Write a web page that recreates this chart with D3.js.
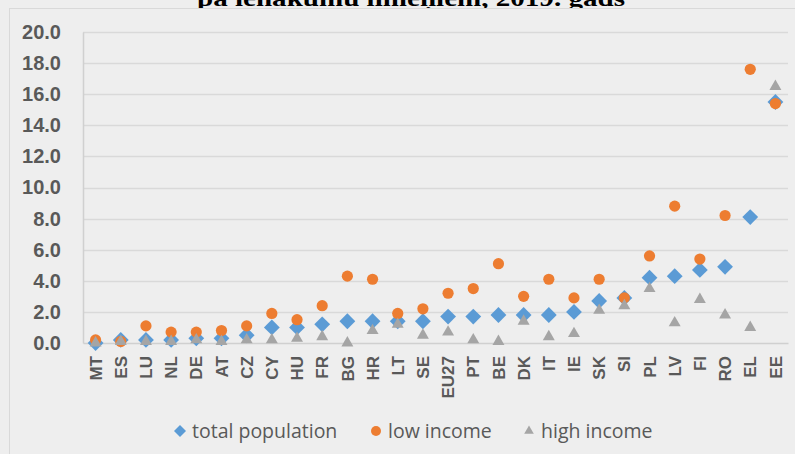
<!DOCTYPE html>
<html>
<head>
<meta charset="utf-8">
<script src="https://cdn.jsdelivr.net/npm/d3@7"></script>
<style>
  body { margin: 0; background: #eeeeee; }
  svg { display: block; }
</style>
</head>
<body>
<div id="chart"></div>
<script>
// countries, sorted as in the source figure
var countries = ["MT","ES","LU","NL","DE","AT","CZ","CY","HU","FR","BG","HR","LT","SE","EU27","PT","BE","DK","IT","IE","SK","SI","PL","LV","FI","RO","EL","EE"];
var totalPop   = [0.0,0.2,0.2,0.2,0.3,0.3,0.5,1.0,1.0,1.2,1.4,1.4,1.4,1.4,1.7,1.7,1.8,1.8,1.8,2.0,2.7,2.9,4.2,4.3,4.7,4.9,8.1,15.5];
var lowIncome  = [0.2,0.1,1.1,0.7,0.7,0.8,1.1,1.9,1.5,2.4,4.3,4.1,1.9,2.2,3.2,3.5,5.1,3.0,4.1,2.9,4.1,2.9,5.6,8.8,5.4,8.2,17.6,15.4];
var highIncome = [0.0,0.1,0.1,0.1,0.2,0.1,0.2,0.2,0.3,0.4,0.0,0.8,1.2,0.5,0.7,0.2,0.1,1.4,0.4,0.6,2.1,2.4,3.5,1.3,2.8,1.8,1.0,16.5];
var yTicks = [0,2,4,6,8,10,12,14,16,18,20];
var titleText = "pa ienākumu līmeņiem, 2019. gads";
var seriesNames = ["total population", "low income", "high income"];

var W = 795, H = 454;
var margin = {top: 32, right: 7, bottom: 111, left: 83};
var width = W - margin.left - margin.right;
var height = H - margin.top - margin.bottom;

var svg = d3.select("#chart").append("svg")
    .attr("width", W)
    .attr("height", H);

// title (its top is cut off in the source picture too)
svg.append("text")
    .attr("x", 411)
    .attr("y", 5.5)
    .attr("text-anchor", "middle")
    .attr("textLength", 428)
    .attr("lengthAdjust", "spacingAndGlyphs")
    .style("font", "bold 24px 'Liberation Serif', 'Times New Roman', serif")
    .style("fill", "#000")
    .text(titleText);

// chart panel
svg.append("rect")
    .attr("x", 9.5)
    .attr("y", 8.5)
    .attr("width", 800)
    .attr("height", 460)
    .style("fill", "#eeeeee")
    .style("stroke", "#d9d9d9")
    .style("stroke-width", 1);

var g = svg.append("g")
    .attr("transform", "translate(" + margin.left + "," + margin.top + ")");

var x = d3.scaleBand().domain(countries).range([0, width]);
var y = d3.scaleLinear().domain([0, 20]).range([height, 0]);

// gridlines
g.append("g")
    .selectAll("line")
    .data(yTicks.slice(1))
    .enter().append("line")
    .attr("x1", 0)
    .attr("x2", width)
    .attr("y1", function(d) { return Math.round(y(d)) + 0.5; })
    .attr("y2", function(d) { return Math.round(y(d)) + 0.5; })
    .style("stroke", "#d9d9d9")
    .style("stroke-width", 1.5);

// y axis
var axisLeft = d3.axisLeft(y).tickValues(yTicks).tickSize(0).tickPadding(22)
    .tickFormat(d3.format(".1f"));
var yAx = g.append("g").call(axisLeft);
yAx.select(".domain").style("stroke", "#d0d0d0").style("stroke-width", 1.5);
yAx.selectAll("text")
    .style("font", "bold 20px 'Liberation Sans', Arial, sans-serif")
    .style("fill", "#595959");

// x axis
var axisBottom = d3.axisBottom(x).tickSize(0).tickPadding(0);
var xAx = g.append("g")
    .attr("transform", "translate(0," + height + ")")
    .call(axisBottom);
xAx.select(".domain").style("stroke", "#d0d0d0").style("stroke-width", 1.5);
xAx.selectAll("text")
    .attr("transform", "rotate(-90)")
    .attr("x", -13)
    .attr("y", 0)
    .attr("dy", "0.36em")
    .style("text-anchor", "end")
    .style("font", "bold 17px 'Liberation Sans', Arial, sans-serif")
    .style("fill", "#595959");

var cx = function(i) { return x(countries[i]) + x.bandwidth() / 2; };
var diamond = d3.symbol().type(d3.symbolSquare).size(125);
var tri = d3.symbol().type(d3.symbolTriangle).size(62);

// total population - blue diamonds
g.append("g").selectAll("path")
    .data(totalPop)
    .enter().append("path")
    .attr("d", diamond)
    .attr("transform", function(d, i) { return "translate(" + cx(i) + "," + y(d) + ") rotate(45)"; })
    .style("fill", "#5b9bd5");

// low income - orange circles
g.append("g").selectAll("circle")
    .data(lowIncome)
    .enter().append("circle")
    .attr("cx", function(d, i) { return cx(i); })
    .attr("cy", function(d) { return y(d); })
    .attr("r", 5.6)
    .style("fill", "#ed7d31");

// high income - grey triangles
g.append("g").selectAll("path")
    .data(highIncome)
    .enter().append("path")
    .attr("d", tri)
    .attr("transform", function(d, i) { return "translate(" + cx(i) + "," + y(d) + ")"; })
    .style("fill", "#a5a5a5");

// legend
var legendX = [180, 376, 529];
var lg = svg.append("g").attr("transform", "translate(0,431)");
var items = lg.selectAll("g").data(seriesNames).enter().append("g")
    .attr("transform", function(d, i) { return "translate(" + legendX[i] + ",0)"; });
items.each(function(d, i) {
    var it = d3.select(this);
    if (i === 0) {
        it.append("path").attr("d", d3.symbol().type(d3.symbolSquare).size(72)())
            .attr("transform", "rotate(45)").style("fill", "#5b9bd5");
    } else if (i === 1) {
        it.append("circle").attr("r", 5).style("fill", "#ed7d31");
    } else {
        it.append("path").attr("d", d3.symbol().type(d3.symbolTriangle).size(40)())
            .style("fill", "#a5a5a5");
    }
    it.append("text")
        .attr("x", 12)
        .attr("dy", "0.35em")
        .style("font", "19.5px 'Open Sans', sans-serif")
        .style("fill", "#595959")
        .text(d);
});
</script>
</body>
</html>
